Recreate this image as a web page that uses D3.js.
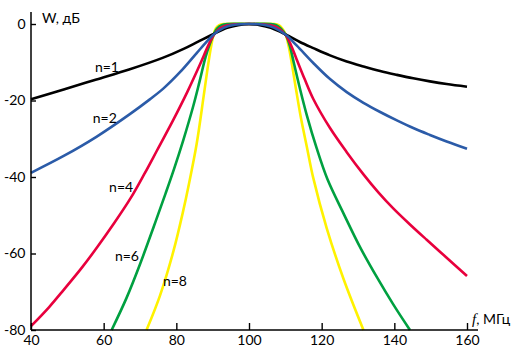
<!DOCTYPE html>
<html>
<head>
<meta charset="utf-8">
<script src="https://cdn.jsdelivr.net/npm/d3@7"></script>
<style>
  html, body { margin: 0; padding: 0; background: #fff; }
  svg { display: block; }
  text { font-family: Lato, "DejaVu Sans", sans-serif; font-size: 14px; fill: #000; }
</style>
</head>
<body>
<svg id="chart" width="520" height="356"></svg>
<script>
// ---- data ----
const xTicks = [40, 60, 80, 100, 120, 140, 160];
const yTicks = [0, -20, -40, -60, -80];

const fN1 = [40, 49, 58, 67, 76.4, 82, 86, 89.8, 94, 97, 100, 103, 106, 110.2, 114, 117.7, 122.3, 126.9, 131.5, 136.1, 140.7, 145.2, 149.8, 154.4, 160];
const wN1 = [-19.7, -17.1, -14.5, -11.9, -8.8, -6.5, -4.6, -2.8, -1.0, -0.3, 0, -0.3, -1.0, -2.8, -4.7, -6.3, -8.2, -9.8, -11.1, -12.3, -13.3, -14.2, -15.0, -15.7, -16.4];

const fN2 = [40, 49, 58, 67.3, 72.7, 76.4, 81, 85.6, 88, 90.2, 93, 96, 100, 104, 107, 110.2, 113.1, 117.7, 122.3, 126.9, 131.5, 136.1, 140.7, 145.2, 149.8, 154.4, 160];
const wN2 = [-38.9, -34.5, -29.5, -23.5, -19.7, -16.9, -12.6, -7.6, -5.0, -2.8, -1.0, -0.2, 0, -0.2, -1.0, -2.9, -5.6, -10.2, -14.4, -17.8, -20.6, -23.0, -25.2, -27.2, -29.0, -30.7, -32.6];

const fN4 = [40, 45, 49, 54, 58.1, 63, 67.5, 71.2, 74.6, 79.2, 83, 86.5, 88.8, 90.2, 92, 94, 96, 100, 104, 106, 108, 110.2, 111.6, 113.1, 115.4, 117.7, 122.3, 126.9, 131.5, 135.6, 139.7, 144.3, 148.9, 154.4, 160];
const wN4 = [-79, -74.0, -69.5, -63.7, -58.5, -51.9, -45.4, -39.2, -33.2, -25.0, -17.8, -10.6, -5.6, -3.0, -1.1, -0.35, -0.1, 0, -0.1, -0.35, -1.1, -3.0, -5.6, -9.2, -14.6, -19.6, -27.2, -33.5, -39.3, -44.0, -48.2, -52.4, -56.4, -61.1, -65.9];

const fN6 = [62.2, 66.3, 70, 73.7, 77, 79.4, 81.9, 84.7, 86.4, 88, 89.3, 90.2, 91.2, 92.5, 94, 100, 106, 107.5, 108.8, 110.2, 111.2, 112.4, 114, 115.9, 118.6, 121.6, 126, 130.6, 135.2, 139.7, 144.3];
const wN6 = [-80, -71.6, -62.8, -53.2, -44.4, -37.8, -30.4, -21.3, -15.0, -8.8, -5.0, -2.9, -1.2, -0.3, 0, 0, 0, -0.3, -1.2, -3.0, -5.6, -10.4, -16.8, -23.8, -32.4, -40.6, -49.5, -58.4, -66.2, -73.3, -80];

const fN8 = [71.8, 75.5, 79.2, 81.9, 83.3, 85.6, 87.5, 88.6, 89.5, 90.2, 90.9, 91.8, 93, 100, 107, 108.2, 109.1, 109.8, 110.2, 111, 111.9, 113, 114.3, 115.9, 117.7, 121.4, 126, 131.5];
const wN8 = [-80, -71.0, -59.4, -48.8, -42.6, -31.3, -19.0, -11.6, -6.2, -3.0, -1.1, -0.3, 0, 0, 0, -0.3, -1.1, -2.2, -3.0, -6.2, -11.0, -17.4, -24.6, -32.0, -40.3, -53.4, -66.6, -80];

const seriesNames = ["n=8", "n=6", "n=4", "n=1", "n=2"];
const seriesF = [fN8, fN6, fN4, fN1, fN2];
const seriesW = [wN8, wN6, wN4, wN1, wN2];
const seriesColors = ["#fff200", "#00a040", "#e8003d", "#000000", "#2b5ba8"];

const labelTexts = ["n=1", "n=2", "n=4", "n=6", "n=8"];
const labelF = [57.6, 57.0, 61.5, 63.1, 76.3];
const labelW = [-12.5, -25.9, -43.9, -62.0, -68.5];

// ---- drawing ----
const svg = d3.select("#chart");
const x = d3.scaleLinear().domain([40, 160]).range([31, 467]);
const y = d3.scaleLinear().domain([-80, 0]).range([330, 24]);

// curves
const line = d3.line()
  .x(d => x(d[0]))
  .y(d => y(d[1]))
  .curve(d3.curveCatmullRom.alpha(0.5));

seriesF.forEach((fs, i) => {
  const pts = fs.map((f, j) => [f, seriesW[i][j]]);
  svg.append("path")
    .datum(pts)
    .attr("d", line)
    .attr("fill", "none")
    .attr("stroke", seriesColors[i])
    .attr("stroke-width", 2.6)
    .attr("stroke-linejoin", "round");
});

// axes
const yAxis = d3.axisLeft(y)
  .tickValues(yTicks)
  .tickFormat(d => String(d))
  .tickSizeInner(-5)
  .tickSizeOuter(0)
  .tickPadding(5.5);
const gy = svg.append("g").attr("transform", "translate(31,0)").call(yAxis);
gy.select(".domain").remove();

const xAxis = d3.axisBottom(x)
  .tickValues(xTicks)
  .tickFormat(d => String(d))
  .tickSizeInner(-7)
  .tickSizeOuter(0)
  .tickPadding(5);
const gx = svg.append("g").attr("transform", "translate(0,330)").call(xAxis);
gx.select(".domain").remove();

[gx, gy].forEach(g => {
  g.selectAll("line").attr("stroke", "#000").attr("stroke-width", 1.4);
  g.selectAll("text").attr("font-family", "Lato, 'DejaVu Sans', sans-serif").attr("font-size", 14).attr("fill", "#000");
});

// axis lines (extended beyond data range)
svg.append("line").attr("x1", 31).attr("x2", 31).attr("y1", 12).attr("y2", 330)
  .attr("stroke", "#000").attr("stroke-width", 1.5);
svg.append("line").attr("x1", 31).attr("x2", 478).attr("y1", 330).attr("y2", 330)
  .attr("stroke", "#000").attr("stroke-width", 1.5);

// axis titles
svg.append("text").attr("x", 42).attr("y", 23).text("W, дБ");
const xt = svg.append("text").attr("x", 472).attr("y", 324);
xt.append("tspan").attr("font-family", "'Liberation Serif', serif").attr("font-style", "italic").attr("font-size", 15).text("f");
xt.append("tspan").text(", МГц");

// curve labels
labelTexts.forEach((t, i) => {
  svg.append("text").attr("x", x(labelF[i])).attr("y", y(labelW[i])).text(t);
});
</script>
</body>
</html>
